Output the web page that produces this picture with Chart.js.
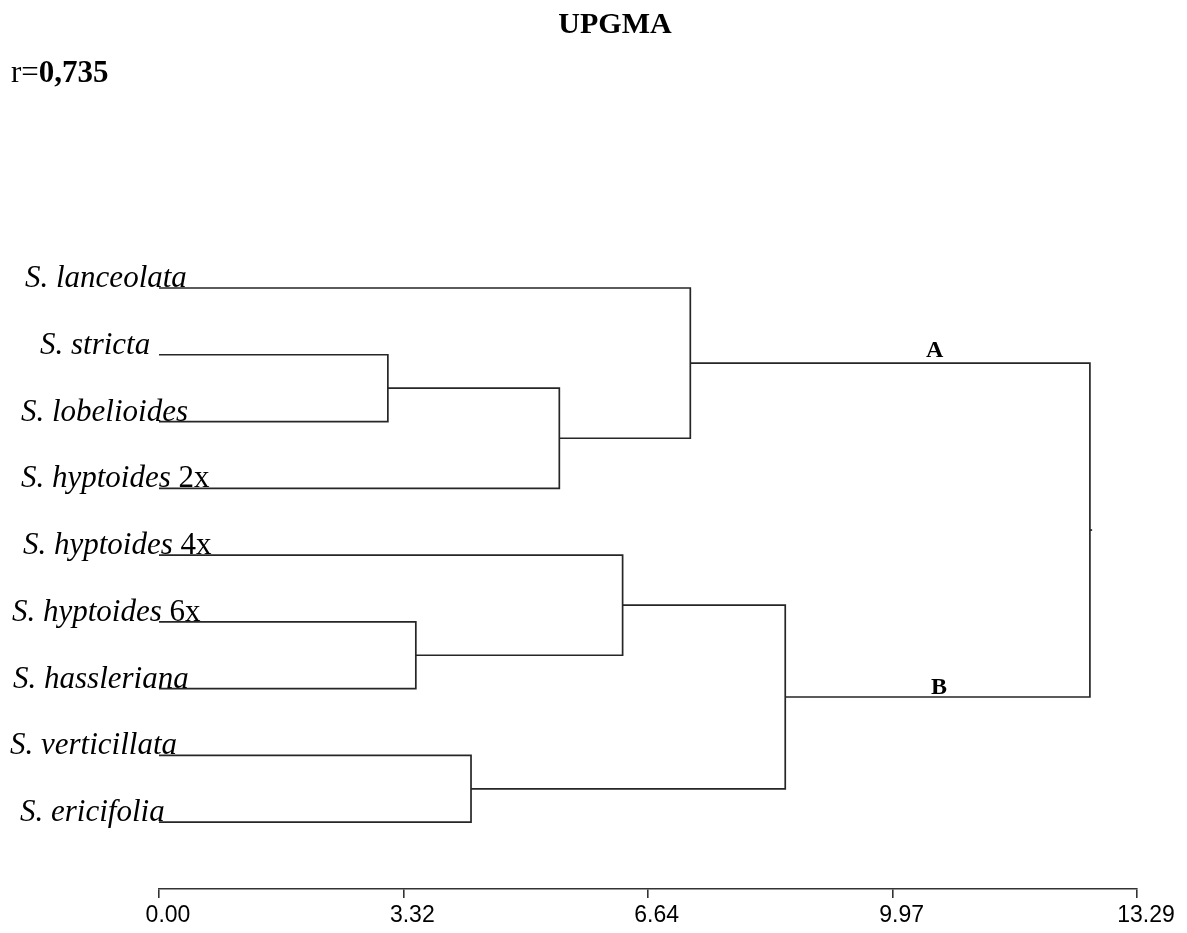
<!DOCTYPE html>
<html>
<head>
<meta charset="utf-8">
<title>UPGMA</title>
<script src="https://cdn.jsdelivr.net/npm/chart.js@4/dist/chart.umd.min.js"></script>
<style>
  html, body { margin: 0; padding: 0; background: #ffffff; }
  #wrap { width: 1187px; height: 933px; position: relative; }
</style>
</head>
<body>
<div id="wrap"><canvas id="tree"></canvas></div>
<script>
// Leaves, top to bottom
const leafNames = [
  'S. lanceolata',
  'S. stricta',
  'S. lobelioides',
  'S. hyptoides 2x',
  'S. hyptoides 4x',
  'S. hyptoides 6x',
  'S. hassleriana',
  'S. verticillata',
  'S. ericifolia'
];

// UPGMA joins: node ids 0..8 are leaves, each join creates node 9, 10, ...
const joinLeft   = [1, 9, 0, 5, 4, 7, 13, 11];
const joinRight  = [2, 3, 10, 6, 12, 8, 14, 15];
const joinHeight = [3.11, 5.44, 7.22, 3.49, 6.30, 4.24, 8.51, 12.65];

// Axis ticks
const tickValues = [0.00, 3.32, 6.64, 9.97, 13.29];

// Named groups
const groupNames = ['A', 'B'];
const groupNodes = [11, 15];

const titleText = 'UPGMA';
const corrLabel = 'r=';
const corrValue = '0,735';

// ---- build node positions and bracket segments ----
const nodeX = leafNames.map(() => 0);
const nodeY = leafNames.map((_, i) => i);
joinHeight.forEach((h, k) => {
  const a = joinLeft[k], b = joinRight[k];
  nodeX.push(h);
  nodeY.push((nodeY[a] + nodeY[b]) / 2);
});

const LINE = '#262626';
const datasets = joinHeight.map((h, k) => {
  const a = joinLeft[k], b = joinRight[k];
  return {
    data: [
      { x: nodeX[a], y: nodeY[a] },
      { x: h, y: nodeY[a] },
      { x: h, y: nodeY[b] },
      { x: nodeX[b], y: nodeY[b] }
    ],
    showLine: true,
    borderColor: LINE,
    borderWidth: 1.7,
    pointRadius: 0,
    pointHoverRadius: 0,
    tension: 0,
    clip: false
  };
});
// short stem at the root
const rootId = nodeX.length - 1;
datasets.push({
  data: [{ x: nodeX[rootId], y: nodeY[rootId] }, { x: nodeX[rootId] + 0.03, y: nodeY[rootId] }],
  showLine: true, borderColor: LINE, borderWidth: 1.7, pointRadius: 0, clip: false
});

const SERIF = '"Liberation Serif", "Times New Roman", serif';
const SANS = '"Liberation Sans", Arial, sans-serif';

// text drawn on top of the tree: heading, correlation, leaf names, group letters
const treeText = {
  id: 'treeText',
  afterDraw(chart, args, opts) {
    const ctx = chart.ctx;
    const xs = chart.scales.x, ys = chart.scales.y;
    ctx.save();
    ctx.fillStyle = '#000';
    ctx.textBaseline = 'alphabetic';

    // heading
    ctx.font = 'bold 30px ' + SERIF;
    ctx.textAlign = 'center';
    ctx.fillText(titleText, opts.titleX, opts.titleY);

    // cophenetic correlation
    ctx.textAlign = 'left';
    ctx.font = '31px ' + SERIF;
    ctx.fillText(corrLabel, opts.corrX, opts.corrY);
    const w = ctx.measureText(corrLabel).width;
    ctx.font = 'bold 31px ' + SERIF;
    ctx.fillText(corrValue, opts.corrX + w, opts.corrY);

    // leaf names (species in italics, ploidy upright)
    leafNames.forEach((name, i) => {
      const m = name.match(/^(.*?)( \d+x)$/);
      const sp = m ? m[1] : name;
      const suffix = m ? m[2] : '';
      const y = ys.getPixelForValue(i) + opts.leafBaseline;
      const x = opts.leafLeft[i];
      ctx.font = 'italic 31px ' + SERIF;
      ctx.fillText(sp, x, y);
      if (suffix) {
        const sw = ctx.measureText(sp).width;
        ctx.font = '31px ' + SERIF;
        ctx.fillText(suffix, x + sw, y);
      }
    });

    // group letters above their branches
    ctx.font = 'bold 24px ' + SERIF;
    ctx.textAlign = 'center';
    groupNames.forEach((g, i) => {
      const x = xs.getPixelForValue(opts.groupAt[i]);
      const y = ys.getPixelForValue(nodeY[groupNodes[i]]) - opts.groupLift[i];
      ctx.fillText(g, x, y);
    });
    ctx.restore();
  }
};

new Chart(document.getElementById('tree'), {
  type: 'scatter',
  data: { datasets },
  plugins: [treeText],
  options: {
    responsive: true,
    maintainAspectRatio: false,
    animation: false,
    events: [],
    layout: { padding: { top: 101, left: 159, right: 50, bottom: 0 } },
    plugins: {
      legend: { display: false },
      tooltip: { enabled: false },
      title: { display: false },
      treeText: {
        titleX: 615, titleY: 33,
        corrX: 11, corrY: 82,
        leafLeft: [25, 40, 21, 21, 23, 12, 13, 10, 20],
        leafBaseline: -1,
        groupAt: [10.54, 10.60],
        groupLift: [6, 3]
      }
    },
    scales: {
      x: {
        type: 'linear',
        min: 0,
        max: 13.29,
        afterBuildTicks(scale) {
          scale.ticks = tickValues.map(v => ({ value: v }));
        },
        afterFit(scale) { scale.height = 44; },
        ticks: {
          autoSkip: false,
          maxRotation: 0,
          padding: 4,
          labelOffset: 9,
          color: '#000',
          font: { family: SANS, size: 23 },
          callback: v => Number(v).toFixed(2)
        },
        grid: {
          display: true,
          drawOnChartArea: false,
          drawTicks: true,
          tickLength: 9,
          color: '#333',
          lineWidth: 1.6
        },
        border: { display: true, color: '#333', width: 1.6 }
      },
      y: {
        type: 'linear',
        reverse: true,
        min: -2.8,
        max: 9.0,
        display: false
      }
    }
  }
});
</script>
</body>
</html>
